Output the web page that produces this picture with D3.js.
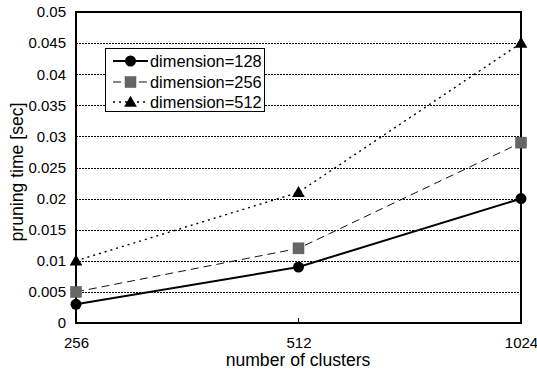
<!DOCTYPE html>
<html><head><meta charset="utf-8">
<script src="https://cdn.jsdelivr.net/npm/d3@7"></script>
<style>body{margin:0;background:#fff}svg{display:block}text{font-family:"Liberation Sans",Arial,sans-serif;fill:#000}</style>
</head><body><svg id="c" width="537" height="370"></svg>
<script>
const categories = ["256", "512", "1024"];
const dim128 = [0.003, 0.009, 0.020];
const dim256 = [0.005, 0.012, 0.029];
const dim512 = [0.010, 0.021, 0.045];
const yTicks = [0, 0.005, 0.01, 0.015, 0.02, 0.025, 0.03, 0.035, 0.04, 0.045, 0.05];
const yTickLabels = ["0","0.005","0.01","0.015","0.02","0.025","0.03","0.035","0.04","0.045","0.05"];
const seriesNames = ["dimension=128", "dimension=256", "dimension=512"];

const svg = d3.select("#c");
const L = 76, R = 521, T = 12, B = 323;
const x = d3.scalePoint().domain(categories).range([L, R]);
const y = d3.scaleLinear().domain([0, 0.05]).range([B, T]);
const FF = "\"Liberation Sans\",Arial,sans-serif";

// gridlines
svg.append("g").attr("shape-rendering", "crispEdges").selectAll("line").data(yTicks.slice(1, -1)).join("line")
  .attr("x1", L).attr("x2", R).attr("y1", d => Math.round(y(d)) + 0.5).attr("y2", d => Math.round(y(d)) + 0.5)
  .attr("stroke", "#000").attr("stroke-width", 1).attr("stroke-dasharray", "2,1");

// y axis
const ya = d3.axisLeft(y).tickValues(yTicks).tickFormat((d, i) => yTickLabels[i]).tickSize(0).tickPadding(10);
const gy = svg.append("g").attr("transform", `translate(${L},0)`).call(ya);
gy.select(".domain").remove();
gy.selectAll("text").style("font-size", "15px").style("font-family", FF);

// x axis
const xa = d3.axisBottom(x).tickSize(0).tickPadding(14);
const gx = svg.append("g").attr("transform", `translate(0,${B})`).call(xa);
gx.select(".domain").remove();
gx.selectAll("text").style("font-size", "15px").style("font-family", FF);

// frame
svg.append("rect").attr("x", L).attr("y", T).attr("width", R - L).attr("height", B - T)
  .attr("fill", "none").attr("stroke", "#000").attr("stroke-width", 2);
svg.append("line").attr("x1", x("512")).attr("x2", x("512")).attr("y1", B - 5).attr("y2", B).attr("stroke", "#000").attr("stroke-width", 1);

// titles
svg.append("text").attr("x", 298).attr("y", 366).attr("text-anchor", "middle").style("font-size", "17.6px").text("number of clusters");
svg.append("text").attr("transform", "translate(23,172) rotate(-90)").attr("text-anchor", "middle").style("font-size", "17.6px").text("pruning time [sec]");

const line = d3.line().x((d, i) => x(categories[i])).y(d => y(d));
const styles = [
  {data: dim128, w: 2, dash: null, stroke: "#000"},
  {data: dim256, w: 1, dash: "8,5", stroke: "#111"},
  {data: dim512, w: 1.4, dash: "2,4", stroke: "#000"}
];
styles.forEach(s => {
  svg.append("path").datum(s.data).attr("d", line).attr("fill", "none")
    .attr("stroke", s.stroke).attr("stroke-width", s.w).attr("stroke-dasharray", s.dash);
});

function marker(g, k, cx, cy) {
  if (k === 0) g.append("circle").attr("cx", cx).attr("cy", cy).attr("r", 5.5).attr("fill", "#000");
  else if (k === 1) g.append("rect").attr("x", cx - 5.5).attr("y", cy - 5.5).attr("width", 11).attr("height", 11).attr("fill", "#666").attr("stroke", "#555").attr("stroke-width", 0.5);
  else g.append("path").attr("d", d3.symbol(d3.symbolTriangle, 70)()).attr("transform", `translate(${cx},${cy + 1})`).attr("fill", "#000");
}
const mg = svg.append("g");
styles.forEach((s, k) => s.data.forEach((v, i) => marker(mg, k, x(categories[i]), y(v))));

// legend
const lg = svg.append("g");
lg.append("rect").attr("x", 105.5).attr("y", 48.5).attr("width", 159).attr("height", 63).attr("fill", "#fff").attr("stroke", "#000").attr("stroke-width", 1);
const ly = [61, 82, 102];
styles.forEach((s, k) => {
  lg.append("line").attr("x1", 113).attr("x2", 148).attr("y1", ly[k]).attr("y2", ly[k])
    .attr("stroke", s.stroke).attr("stroke-width", s.w).attr("stroke-dasharray", s.dash);
  marker(lg, k, 130.5, ly[k]);
  lg.append("text").attr("x", 150).attr("y", ly[k] + 6).style("font-size", "16.4px").text(seriesNames[k]);
});
</script></body></html>
